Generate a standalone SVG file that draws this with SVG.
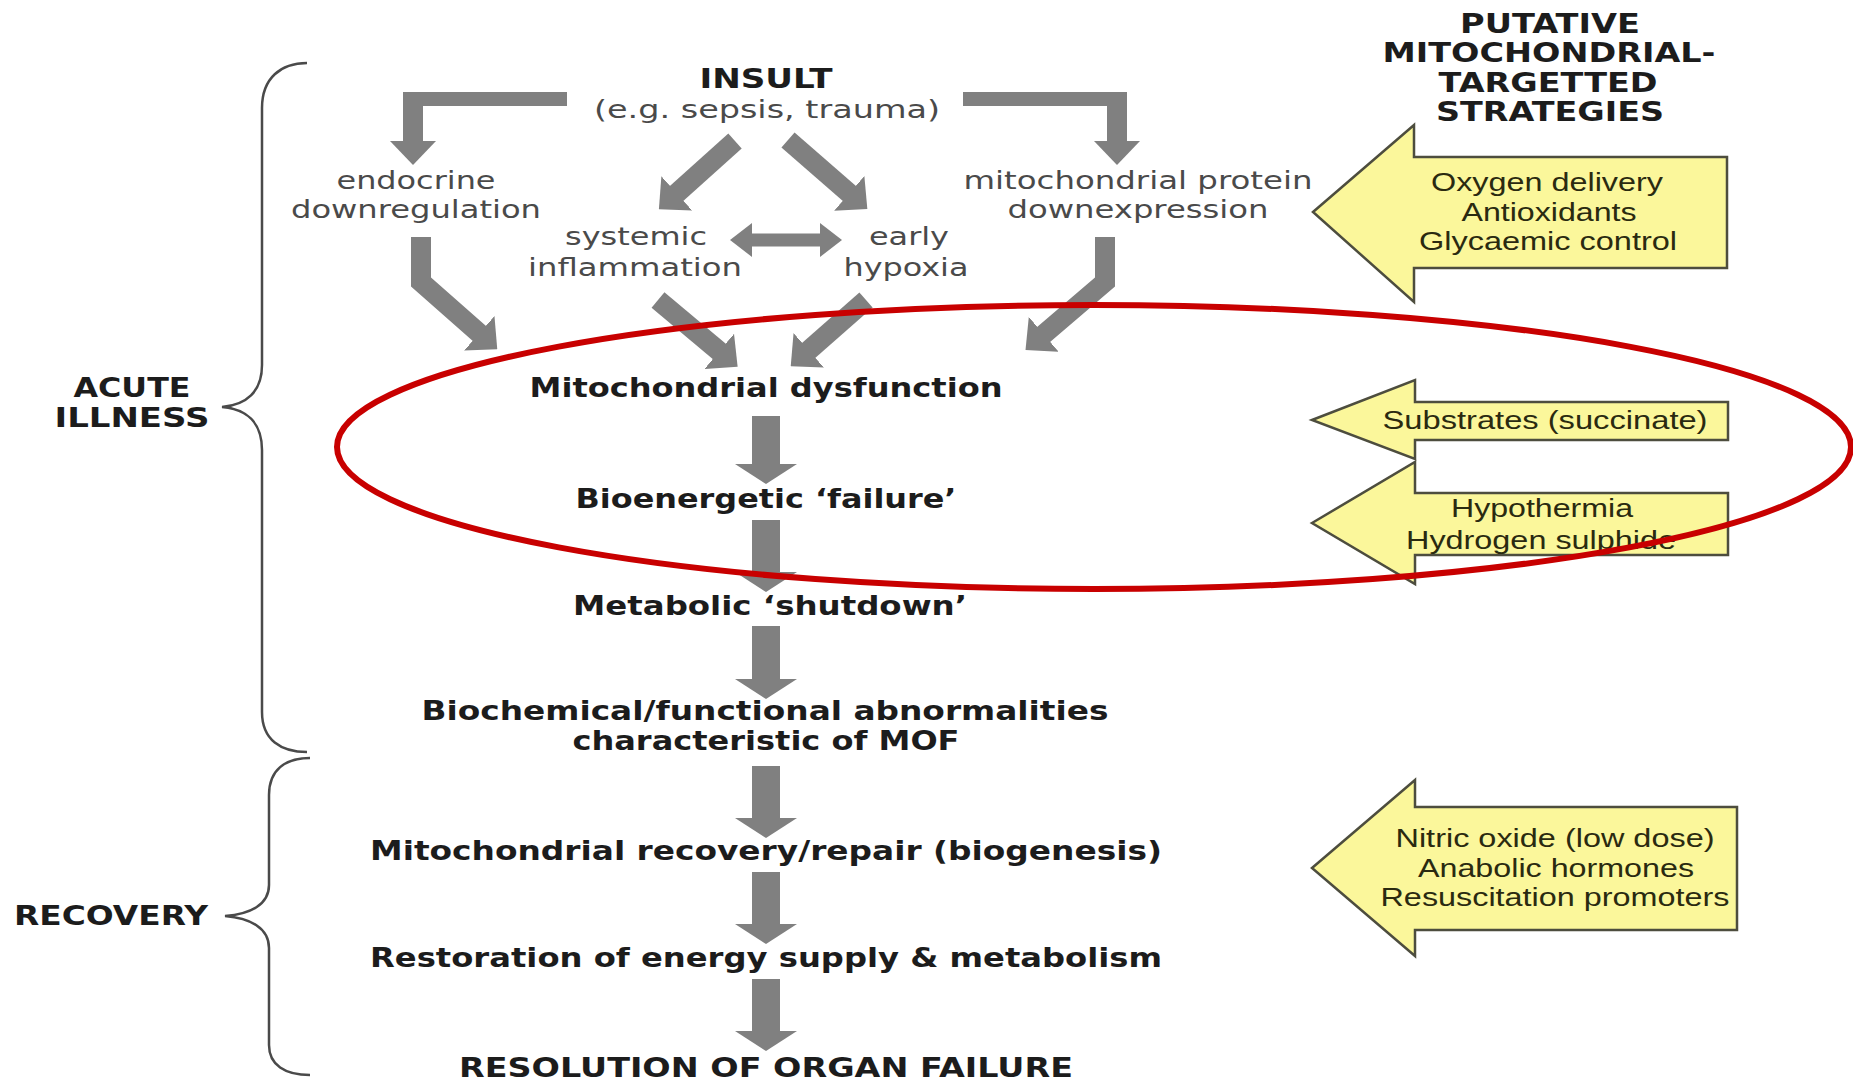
<svg xmlns="http://www.w3.org/2000/svg" width="1853" height="1082" viewBox="0 0 1853 1082">
<style>
.b{font-family:"DejaVu Sans",Verdana,sans-serif;font-weight:bold;font-size:26px;fill:#1c1c1c;text-anchor:middle}
.g{font-family:"DejaVu Sans",Verdana,sans-serif;font-size:25px;fill:#4a4a4a;text-anchor:middle}
.y{font-family:"Liberation Sans",Arial,sans-serif;font-size:25px;fill:#2a2a10;text-anchor:middle}
.ya{fill:#fbf79b;stroke:#4d4d3e;stroke-width:2.5;stroke-linejoin:miter}
.br{fill:none;stroke:#4a4a4a;stroke-width:2.5}
</style>
<defs>
<marker id="hd" markerUnits="userSpaceOnUse" viewBox="0 0 24 46" markerWidth="24" markerHeight="46" refX="1" refY="23" orient="auto"><path d="M0,0 L24,23 L0,46 Z" fill="#808080"/></marker>
<marker id="hm" markerUnits="userSpaceOnUse" viewBox="0 0 20 62" markerWidth="20" markerHeight="62" refX="1" refY="31" orient="auto"><path d="M0,0 L20,31 L0,62 Z" fill="#808080"/></marker>
<marker id="hs" markerUnits="userSpaceOnUse" viewBox="0 0 22 34" markerWidth="22" markerHeight="34" refX="1" refY="17" orient="auto-start-reverse"><path d="M0,0 L22,17 L0,34 Z" fill="#808080"/></marker>
</defs>
<rect width="1853" height="1082" fill="#ffffff"/>

<g id="connectors" fill="none" stroke="#808080">
<path d="M567,99 L403,99" stroke-width="14"/>
<path d="M413,92 L413,142" stroke-width="20" marker-end="url(#hd)"/>
<path d="M963,99 L1127,99" stroke-width="14"/>
<path d="M1117,92 L1117,142" stroke-width="20" marker-end="url(#hd)"/>
<path d="M735,141 L676,194" stroke-width="20" marker-end="url(#hd)"/>
<path d="M788,140 L850,194" stroke-width="20" marker-end="url(#hd)"/>
<path d="M751,240 L821,240" stroke-width="13" marker-start="url(#hs)" marker-end="url(#hs)"/>
<path d="M421,237 L421,282 L480,334" stroke-width="20" marker-end="url(#hd)"/>
<path d="M1105,237 L1105,282 L1043,335" stroke-width="20" marker-end="url(#hd)"/>
<path d="M658,300 L720,352" stroke-width="20" marker-end="url(#hd)"/>
<path d="M866,300 L808,351" stroke-width="20" marker-end="url(#hd)"/>
<path d="M766,416 L766,465" stroke-width="28" marker-end="url(#hm)"/>
<path d="M766,520 L766,573" stroke-width="28" marker-end="url(#hm)"/>
<path d="M766,626 L766,680" stroke-width="28" marker-end="url(#hm)"/>
<path d="M766,766 L766,819" stroke-width="28" marker-end="url(#hm)"/>
<path d="M766,872 L766,925" stroke-width="28" marker-end="url(#hm)"/>
<path d="M766,979 L766,1032" stroke-width="28" marker-end="url(#hm)"/>
</g>

<g id="brace-acute">
<path class="br" d="M307,63 C281,63 262,78 262,108 L262,365 C262,392 246,405 222,407 C246,409 262,422 262,450 L262,712 C262,740 281,752 307,752"/>
<text class="b" x="132" y="397" textLength="117" lengthAdjust="spacingAndGlyphs">ACUTE</text>
<text class="b" x="132" y="427" textLength="155" lengthAdjust="spacingAndGlyphs">ILLNESS</text>
</g>
<g id="brace-recovery">
<path class="br" d="M310,758 C285,758 269,770 269,795 L269,885 C269,905 250,914 225,916 C250,918 269,928 269,948 L269,1045 C269,1065 285,1075 310,1075"/>
<text class="b" x="111" y="925" textLength="194" lengthAdjust="spacingAndGlyphs">RECOVERY</text>
</g>

<g id="insult">
<text class="b" x="766" y="88" textLength="133" lengthAdjust="spacingAndGlyphs">INSULT</text>
<text class="g" x="767" y="118" textLength="346" lengthAdjust="spacingAndGlyphs">(e.g. sepsis, trauma)</text>
</g>
<g id="endocrine">
<text class="g" x="416" y="189" textLength="159" lengthAdjust="spacingAndGlyphs">endocrine</text>
<text class="g" x="416" y="218" textLength="250" lengthAdjust="spacingAndGlyphs">downregulation</text>
</g>
<g id="systemic">
<text class="g" x="636" y="245" textLength="142" lengthAdjust="spacingAndGlyphs">systemic</text>
<text class="g" x="635" y="276" textLength="214" lengthAdjust="spacingAndGlyphs">inflammation</text>
</g>
<g id="hypoxia">
<text class="g" x="909" y="245" textLength="80" lengthAdjust="spacingAndGlyphs">early</text>
<text class="g" x="906" y="276" textLength="125" lengthAdjust="spacingAndGlyphs">hypoxia</text>
</g>
<g id="protein">
<text class="g" x="1138" y="189" textLength="349" lengthAdjust="spacingAndGlyphs">mitochondrial protein</text>
<text class="g" x="1138" y="218" textLength="261" lengthAdjust="spacingAndGlyphs">downexpression</text>
</g>
<g id="dysfunction"><text class="b" x="766" y="397" textLength="473" lengthAdjust="spacingAndGlyphs">Mitochondrial dysfunction</text></g>
<g id="bioenergetic"><text class="b" x="766" y="508" textLength="381" lengthAdjust="spacingAndGlyphs">Bioenergetic ‘failure’</text></g>
<g id="metabolic"><text class="b" x="770" y="615" textLength="394" lengthAdjust="spacingAndGlyphs">Metabolic ‘shutdown’</text></g>
<g id="biochemical">
<text class="b" x="765" y="720" textLength="687" lengthAdjust="spacingAndGlyphs">Biochemical/functional abnormalities</text>
<text class="b" x="766" y="750" textLength="387" lengthAdjust="spacingAndGlyphs">characteristic of MOF</text>
</g>
<g id="recovery"><text class="b" x="766" y="860" textLength="792" lengthAdjust="spacingAndGlyphs">Mitochondrial recovery/repair (biogenesis)</text></g>
<g id="restoration"><text class="b" x="766" y="967" textLength="792" lengthAdjust="spacingAndGlyphs">Restoration of energy supply &amp; metabolism</text></g>
<g id="resolution"><text class="b" x="766" y="1077" textLength="614" lengthAdjust="spacingAndGlyphs">RESOLUTION OF ORGAN FAILURE</text></g>

<g id="heading">
<text class="b" x="1550" y="33" textLength="180" lengthAdjust="spacingAndGlyphs">PUTATIVE</text>
<text class="b" x="1549" y="62" textLength="333" lengthAdjust="spacingAndGlyphs">MITOCHONDRIAL-</text>
<text class="b" x="1548" y="92" textLength="219" lengthAdjust="spacingAndGlyphs">TARGETTED</text>
<text class="b" x="1550" y="121" textLength="228" lengthAdjust="spacingAndGlyphs">STRATEGIES</text>
</g>

<g id="strategy-oxygen">
<polygon class="ya" points="1313,212 1414,125 1414,157 1727,157 1727,268 1414,268 1414,302"/>
<text class="y" x="1547" y="191" textLength="232" lengthAdjust="spacingAndGlyphs">Oxygen delivery</text>
<text class="y" x="1549" y="221" textLength="175" lengthAdjust="spacingAndGlyphs">Antioxidants</text>
<text class="y" x="1548" y="250" textLength="258" lengthAdjust="spacingAndGlyphs">Glycaemic control</text>
</g>
<g id="strategy-substrates">
<polygon class="ya" points="1312,420 1415,380 1415,402 1728,402 1728,440 1415,440 1415,459"/>
<text class="y" x="1545" y="429" textLength="325" lengthAdjust="spacingAndGlyphs">Substrates (succinate)</text>
</g>
<g id="strategy-hypothermia">
<polygon class="ya" points="1312,523 1415,462 1415,493 1728,493 1728,555 1415,555 1415,584"/>
<text class="y" x="1542" y="517" textLength="182" lengthAdjust="spacingAndGlyphs">Hypothermia</text>
<text class="y" x="1541" y="549" textLength="270" lengthAdjust="spacingAndGlyphs">Hydrogen sulphide</text>
</g>
<g id="strategy-nitric">
<polygon class="ya" points="1312,868 1415,780 1415,807 1737,807 1737,930 1415,930 1415,956"/>
<text class="y" x="1555" y="847" textLength="319" lengthAdjust="spacingAndGlyphs">Nitric oxide (low dose)</text>
<text class="y" x="1556" y="877" textLength="276" lengthAdjust="spacingAndGlyphs">Anabolic hormones</text>
<text class="y" x="1555" y="906" textLength="349" lengthAdjust="spacingAndGlyphs">Resuscitation promoters</text>
</g>

<g id="highlight">
<ellipse cx="1094" cy="447" rx="757" ry="142" fill="none" stroke="#c80000" stroke-width="6"/>
</g>
</svg>
